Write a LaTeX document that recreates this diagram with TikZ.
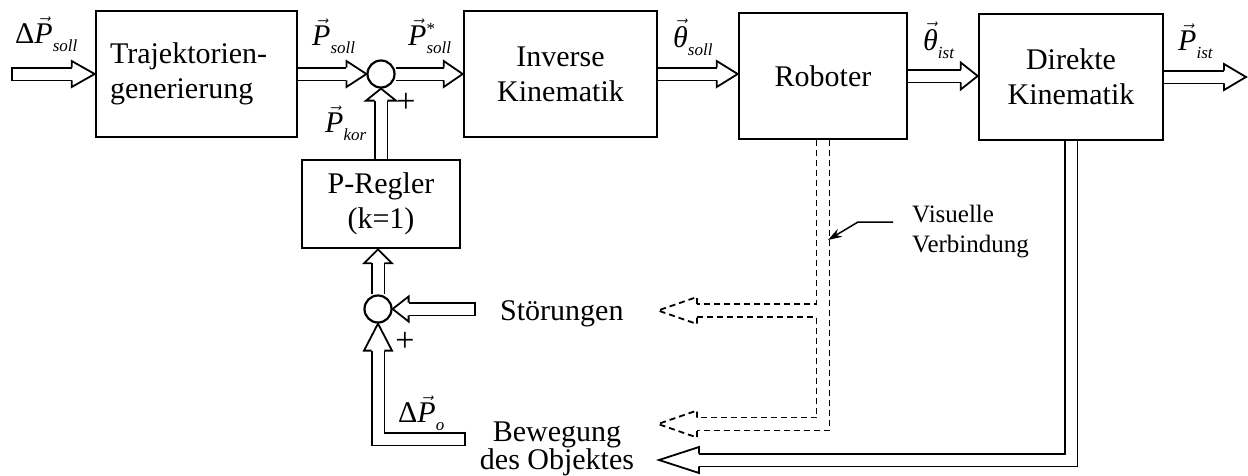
\documentclass[tikz,border=0pt]{standalone}
\usepackage{fontspec}
\setmainfont{Liberation Serif}
\usetikzlibrary{calc,arrows.meta}

% vector symbol with subscript (optional superscript)
\newcommand{\vq}[3][]{$\vec{\mbox{\itshape #2}}$\rlap{\raisebox{11pt}{\fontsize{17}{17}\selectfont #1}}\raisebox{-8pt}{\fontsize{17}{17}\selectfont\itshape #3}}

% hollow block arrow: #1 start, #2 tip, #3 direction angle, #4 head length, #5 head half width
\newcommand{\barrow}[5]{%
  \draw[shaft] (#1) -- ($(#2)+(#3+180:#4pt)$);
  \begin{scope}[shift={(#2)}, rotate=#3]
    \draw[edge] (-#4pt,6.4pt) -- (-#4pt,#5pt) -- (0pt,0pt) -- (-#4pt,-#5pt) -- (-#4pt,-6.4pt);
  \end{scope}}
% hollow head only
\newcommand{\bhead}[4]{%
  \begin{scope}[shift={(#1)}, rotate=#2]
    \draw[edge] (-#3pt,6.4pt) -- (-#3pt,#4pt) -- (0pt,0pt) -- (-#3pt,-#4pt) -- (-#3pt,-6.4pt);
  \end{scope}}
% closed tail of a horizontal block arrow
\newcommand{\btail}[1]{\draw[edge] ($(#1)+(0,-7.3)$) -- ($(#1)+(0,7.3)$);}
% dashed hollow head pointing left
\newcommand{\dhead}[1]{\draw[dashedge] ($(#1)+(39,-6.5)$) -- ($(#1)+(39,-13.5)$) -- (#1) -- ($(#1)+(39,13.5)$) -- ($(#1)+(39,6.5)$);}

\tikzset{
  block/.style={draw, line width=2.6pt, minimum height=126pt, inner sep=0pt, align=center,
                font=\fontsize{30}{35}\selectfont},
  sumnode/.style={draw, circle, line width=2.2pt, minimum size=27pt, inner sep=0pt},
  shaft/.style={line width=1.8pt, double=white, double distance=11pt, line join=miter},
  edge/.style={line width=1.8pt, line join=miter},
  dashedge/.style={line width=1.8pt, dash pattern=on 6pt off 4pt},
  lbl/.style={inner sep=0pt, anchor=base west, font=\fontsize{30}{35}\selectfont},
  txt/.style={inner sep=0pt, font=\fontsize{30}{35}\selectfont},
}

\begin{document}
\begin{tikzpicture}[x=1pt, y=-1pt]
\useasboundingbox (0,0) rectangle (1248,475);

% blocks
\node[block, text width=173pt, inner xsep=14pt, align=left] (traj) at (196.5,74) {Trajektorien-\\generierung};
\node[block, minimum width=193pt] (inv) at (560.5,74) {Inverse\\Kinematik};
\node[block, minimum width=168pt] (rob) at (823,76) {Roboter};
\node[block, minimum width=184pt] (dir) at (1071,77) {Direkte\\Kinematik};
\node[block, minimum width=158pt, minimum height=88pt] (preg) at (381,204) {P-Regler\\(k=1)};

% summing points
\node[sumnode] (sum1) at (381,74) {};
\node[sumnode] (sum2) at (378,309) {};

% free ends
\coordinate (inTail) at (12,74);
\coordinate (outTip) at (1246,77);
\coordinate (robIn) at (inv.east -| rob.west);
\coordinate (dirIn) at (rob.east -| dir.west);
\coordinate (pregIn) at (sum2.north |- preg.south);
\coordinate (stTail) at (475,309);
\coordinate (bTail) at (465,439);
\coordinate (bTip) at (659,460);
\coordinate (dTip1) at (658,310.5);
\coordinate (dTip2) at (658,424);

% forward path
\barrow{inTail}{traj.west}{0}{23}{13}
\btail{inTail}
\barrow{traj.east}{sum1.west}{0}{20}{13}
\barrow{sum1.east}{inv.west}{0}{19}{13}
\barrow{inv.east}{robIn}{0}{21}{13}
\barrow{rob.east}{dirIn}{0}{17}{13.5}
\barrow{dir.east}{outTip}{0}{22}{13}

% correction loop
\barrow{preg.north}{sum1.south}{90}{12}{15}
\barrow{sum2.north}{pregIn}{90}{14}{14}
\barrow{stTail}{sum2.east}{180}{16}{12.5}
\btail{stTail}
\draw[shaft] (bTail) -- (bTail -| sum2.south) -- ($(sum2.south)+(0,27)$);
\bhead{sum2.south}{90}{27}{14}
\btail{bTail}

% object motion fed back from the direct kinematics
\draw[shaft] (dir.south) -- (dir.south |- bTip) -- ($(bTip)+(40,0)$);
\bhead{bTip}{180}{40}{13}

% visual link (dashed double line)
\draw[dashedge] ($(rob.south)+(-6.5,0)$) |- ($(dTip1)+(39,-6.5)$);
\draw[dashedge] ($(dTip1)+(39,6.5)$) -- ($(dTip1)+(158.5,6.5)$) -- ($(dTip2)+(158.5,-6.5)$) -- ($(dTip2)+(39,-6.5)$);
\draw[dashedge] ($(rob.south)+(6.5,0)$) |- ($(dTip2)+(39,6.5)$);
\dhead{dTip1}
\dhead{dTip2}

% signal labels
\node[lbl] (dPs) at (15,43) {Δ\vq{P}{soll}};
\node[lbl] (Ps) at (312,45) {\vq{P}{soll}};
\node[lbl] (Pss) at (408,45) {\vq[*]{P}{soll}};
\node[lbl] (ths) at (673,47) {\vq{θ}{soll}};
\node[lbl] (thi) at (923,50) {\vq{θ}{ist}};
\node[lbl] (Pi) at (1178,50) {\vq{P}{ist}};
\node[lbl] (Pk) at (325,132) {\vq{P}{kor}};
\node[lbl] (dPo) at (398,422) {Δ\vq{P}{o}};
\node[txt, font=\fontsize{34}{35}\selectfont] (plus1) at (406,103) {+};
\node[txt, font=\fontsize{34}{35}\selectfont] (plus2) at (405,342) {+};

% disturbance texts
\node[lbl] (stoer) at (500,320) {Störungen};
\node[txt, align=center, font=\fontsize{30}{28}\selectfont] (bew) at (557,449) {Bewegung\\des Objektes};
\node[inner sep=0pt, anchor=west, align=left, font=\fontsize{25}{30}\selectfont] (vis) at (912,232) {Visuelle\\Verbindung};
\coordinate (vl) at ($(vis.west)+(-19,-10)$);
\coordinate (vt) at (828,240);
\draw[line width=1.5pt, -{Stealth[length=14pt,width=9pt]}] (vl) -- ++(-35,0) -- (vt);
\end{tikzpicture}
\end{document}
